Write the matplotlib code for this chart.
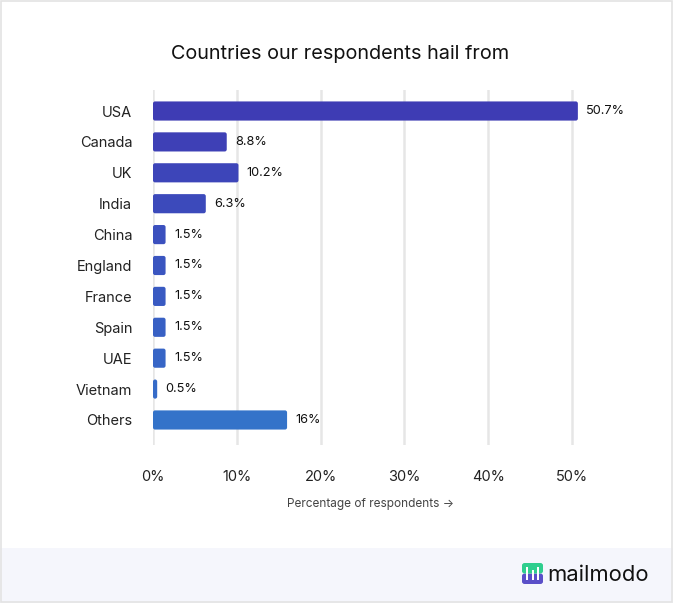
import matplotlib
matplotlib.use("Agg")
import matplotlib.pyplot as plt
from matplotlib.patches import FancyBboxPatch, Rectangle

plt.rcParams['font.family'] = ['Inter', 'DejaVu Sans']

countries = ['USA', 'Canada', 'UK', 'India', 'China', 'England', 'France',
             'Spain', 'UAE', 'Vietnam', 'Others']
shares = [50.7, 8.8, 10.2, 6.3, 1.5, 1.5, 1.5, 1.5, 1.5, 0.5, 16]
labels = ['50.7%', '8.8%', '10.2%', '6.3%', '1.5%', '1.5%', '1.5%',
          '1.5%', '1.5%', '0.5%', '16%']
ticks = [0, 10, 20, 30, 40, 50]
tick_labels = ['0%', '10%', '20%', '30%', '40%', '50%']

bar_colors = ['#3e3cb4', '#3e40b6', '#3d45b9', '#3c4abb', '#3b50be', '#3a55c0',
              '#395ac2', '#3860c4', '#3765c6', '#366bc8', '#3473c9']

fig = plt.figure(figsize=(6.73, 6.03), dpi=100)
fig.patch.set_facecolor('white')

# footer band + frame
fig.patches.append(Rectangle((0, 0), 1, 55 / 603, transform=fig.transFigure,
                             facecolor='#f5f6fc', edgecolor='none', zorder=0))
fig.patches.append(Rectangle((0.001, 0.001), 0.998, 0.998, transform=fig.transFigure,
                             facecolor='none', edgecolor='#e3e3e3', lw=1.2, zorder=5))

ax = fig.add_axes([153 / 673, 1 - 445 / 603, (52 * 8.38) / 673, 355 / 603])
ax.set_facecolor('none')

ys = list(range(len(countries)))
bars = ax.barh(ys, shares, height=0.62, color=bar_colors, zorder=3)
for b, c in zip(bars, bar_colors):
    x0, y0 = b.get_x(), b.get_y()
    w, h = b.get_width(), b.get_height()
    b.set_visible(False)
    ax.add_patch(FancyBboxPatch((x0, y0), w, h,
                                boxstyle='round,pad=0,rounding_size=0.25',
                                mutation_aspect=0.27, facecolor=c,
                                edgecolor='none', zorder=3))
for y, v, t in zip(ys, shares, labels):
    ax.text(v + 1.0, y, t, va='center', ha='left', fontsize=9.2, color='#111111')

ax.set_xlim(0, 52)
ax.set_ylim(10.81, -0.68)
ax.set_xticks(ticks)
ax.set_xticklabels(tick_labels, fontsize=10.5, color='#222222')
ax.set_yticks(ys)
ax.set_yticklabels(countries, fontsize=10.5, color='#222222')
ax.tick_params(axis='x', length=0, pad=18)
ax.tick_params(axis='y', length=0, pad=15)
ax.xaxis.grid(True, color='#e6e6e6', lw=1.8, zorder=0)
for s in ax.spines.values():
    s.set_visible(False)
ax.set_xlabel('Percentage of respondents \u2192', fontsize=8.5, color='#444444',
              labelpad=10)

fig.text(340 / 673, 1 - 54 / 603, 'Countries our respondents hail from',
         ha='center', va='center', fontsize=14.3, color='#111111')

# logo
fig.patches.append(FancyBboxPatch((522 / 673, 1 - 584 / 603), 21 / 673, 10.5 / 603,
                                  boxstyle='round,pad=0,rounding_size=0.004',
                                  transform=fig.transFigure, facecolor='#5a4fc8',
                                  edgecolor='none', zorder=6))
fig.patches.append(FancyBboxPatch((522 / 673, 1 - 573.5 / 603), 21 / 673, 10.5 / 603,
                                  boxstyle='round,pad=0,rounding_size=0.004',
                                  transform=fig.transFigure, facecolor='#2fce8e',
                                  edgecolor='none', zorder=6))
for bx, top in [(526, 567), (531.5, 570), (537, 567)]:
    fig.patches.append(Rectangle((bx / 673, 1 - 580 / 603), 2.2 / 673, (580 - top) / 603,
                                 transform=fig.transFigure, facecolor='white',
                                 edgecolor='none', zorder=7))
fig.text(547 / 673, 1 - 575 / 603, 'mailmodo', ha='left', va='center',
         fontsize=15.8, color='#111111')

fig.savefig('out.png', dpi=100)
